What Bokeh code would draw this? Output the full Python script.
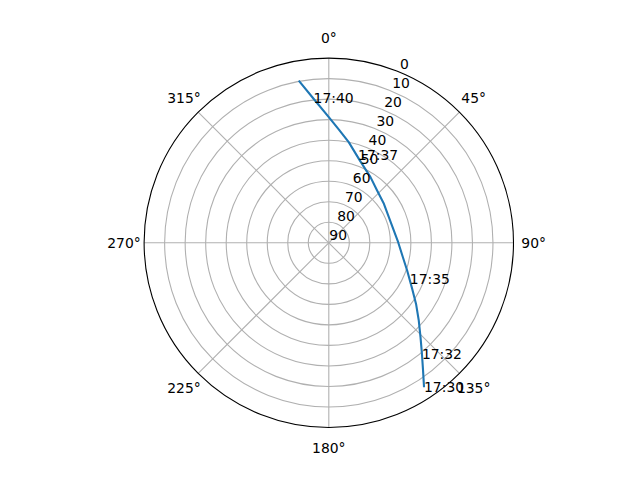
import numpy as np
from bokeh.plotting import figure
from bokeh.models import Range1d
from bokeh.core.properties import value
from bokeh.embed import file_html
from bokeh.resources import INLINE

# Satellite pass: azimuth (deg, clockwise from North) and elevation (deg)
azimuth = [146.6, 143.6, 140.0, 135.8, 130.8, 125.0, 118.9, 109.5, 100.5, 89.5,
           72.3, 54.7, 42.7, 32.4, 20.6, 11.2, 5.1, 0.0, 353.9, 349.5]
elevation = [5.7, 12.6, 19.4, 25.9, 32.1, 38.1, 43.6, 49.5, 53.4, 56.2,
             58.2, 57.1, 55.3, 52.1, 47.1, 40.0, 34.6, 28.8, 19.3, 9.6]

# Time annotations along the pass
label_text = ["17:30", "17:32", "17:35", "17:37", "17:40"]
label_az = [146.6, 140.0, 114.0, 18.5, 354.0]
label_el = [5.7, 19.4, 46.8, 45.1, 18.9]

# Radial ticks (elevation: 0 at the rim, 90 at the centre)
r_ticks = [0, 10, 20, 30, 40, 50, 60, 70, 80, 90]
r_tick_labels = ["0", "10", "20", "30", "40", "50", "60", "70", "80", "90"]
# Angular ticks
theta_ticks = [0, 45, 90, 135, 180, 225, 270, 315]
theta_tick_labels = ["0°", "45°", "90°", "135°", "180°", "225°", "270°", "315°"]

RMAX = 90.0
FONT = value("DejaVu Sans")
FS = "13.9px"


def to_xy(az_deg, el_deg):
    az = np.radians(np.asarray(az_deg, dtype=float))
    r = RMAX - np.asarray(el_deg, dtype=float)
    return r * np.sin(az), r * np.cos(az)


W, H = 624, 464
scale = 184.7 / RMAX          # px per unit
cx, cy = 328.3, 242.3          # centre in figure px (from top-left)

p = figure(width=W, height=H, output_backend="svg", toolbar_location=None,
           x_axis_type=None, y_axis_type=None,
           x_range=Range1d(-cx / scale, (W - cx) / scale),
           y_range=Range1d(-(H - cy) / scale, cy / scale),
           min_border=0)
p.outline_line_color = None
p.background_fill_color = "white"
p.border_fill_color = "white"

grid_color = "#b0b0b0"
# grid circles
radii = [RMAX - t for t in r_ticks if 0 < t < 90]
p.circle(x=[0] * len(radii), y=[0] * len(radii), radius=radii,
         fill_color=None, line_color=grid_color, line_width=1.1)
# radial grid lines
th = np.radians(theta_ticks)
p.segment(x0=[0] * len(th), y0=[0] * len(th),
          x1=list(RMAX * np.sin(th)), y1=list(RMAX * np.cos(th)),
          line_color=grid_color, line_width=1.1)

# trajectory
tx, ty = to_xy(azimuth, elevation)
p.line(x=list(tx), y=list(ty), line_color="#1f77b4", line_width=2.1,
       line_join="round")

# outer spine
p.circle(x=[0], y=[0], radius=[RMAX], fill_color=None,
         line_color="black", line_width=1.1)

# radial tick labels along 22.5 degrees
rl_ang = np.radians(22.5)
rr = np.array([RMAX - t for t in r_ticks])
p.text(x=list(rr * np.sin(rl_ang)), y=list(rr * np.cos(rl_ang)), text=r_tick_labels,
       text_font=FONT, text_font_size=FS, text_color="black",
       text_align="left", text_baseline="middle", x_offset=0.5, y_offset=-8)

# angular tick labels
lab_r = 204.8 / scale
p.text(x=list(lab_r * np.sin(th)), y=list(lab_r * np.cos(th)), text=theta_tick_labels,
       text_font=FONT, text_font_size=FS, text_color="black",
       text_align="center", text_baseline="middle")

# time labels
lx, ly = to_xy(label_az, label_el)
p.text(x=list(lx), y=list(ly), text=label_text,
       text_font=FONT, text_font_size=FS, text_color="black",
       text_align="left", text_baseline="alphabetic")

open("out.html", "w").write(file_html(p, INLINE))
